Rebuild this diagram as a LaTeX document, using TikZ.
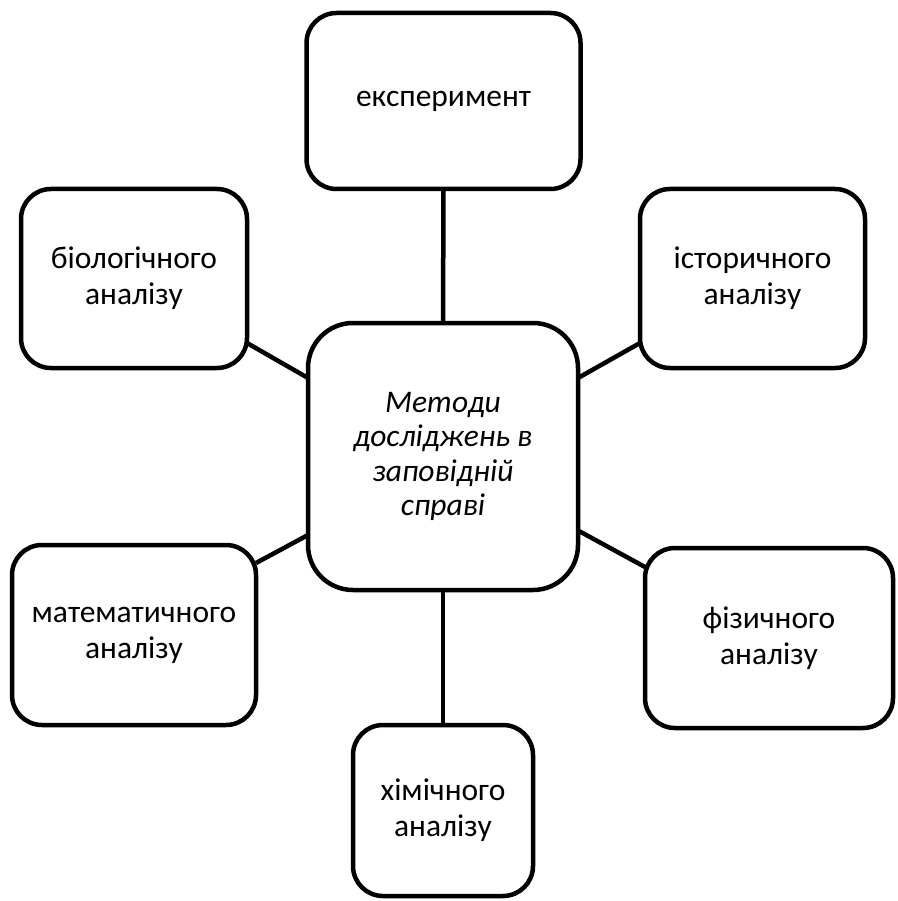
\documentclass[tikz,border=0pt]{standalone}
\usepackage{fontspec}
\setmainfont{Carlito}
\begin{document}
\begin{tikzpicture}[x=1pt,y=-1pt,
  box/.style={draw=black,line width=4.5pt,rounded corners=30pt,fill=white,
    align=center,inner sep=0pt,outer sep=0pt,
    font=\fontsize{31.5}{36}\selectfont},
  link/.style={draw=black,line width=4.5pt}]
\useasboundingbox (0,0) rectangle (897,901);
\node[box,rounded corners=45pt,minimum width=270pt,minimum height=267pt,
  font=\fontsize{31.5}{34.5}\selectfont\itshape] (ctr) at (443,456.5)
  {Методи\\досліджень в\\заповідній\\справі};
\node[box,minimum width=274pt,minimum height=176pt] (top) at (443.5,101) {експеримент};
\node[box,minimum width=226pt,minimum height=179pt] (bio) at (134,278.5) {біологічного\\аналізу};
\node[box,minimum width=225pt,minimum height=179pt] (hist) at (752.5,278.5) {історичного\\аналізу};
\node[box,minimum width=244pt,minimum height=180pt] (math) at (134,635) {математичного\\аналізу};
\node[box,minimum width=248pt,minimum height=180pt] (phys) at (769,638) {фізичного\\аналізу};
\node[box,minimum width=180pt,minimum height=171pt] (chem) at (443,810.5) {хімічного\\аналізу};
\draw[link] (top.south) -- (ctr.north);
\draw[link] (ctr.south) -- (chem.north);
\draw[link] ([yshift=-64.5pt]bio.east) -- ([yshift=78.5pt]ctr.west);
\draw[link] ([yshift=-64.5pt]hist.west) -- ([yshift=78.5pt]ctr.east);
\draw[link] ([yshift=72pt]math.east) -- ([yshift=-78.5pt]ctr.west);
\draw[link] ([yshift=71pt]phys.west) -- ([yshift=-74pt]ctr.east);
\end{tikzpicture}
\end{document}
